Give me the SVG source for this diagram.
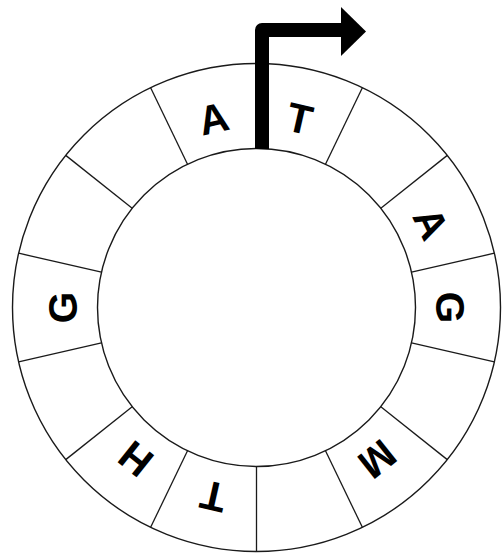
<svg xmlns="http://www.w3.org/2000/svg" width="503" height="553" viewBox="0 0 503 553">
<style>
.ring{fill:none;stroke:#1a1a1a;stroke-width:1.4}
.div{stroke:#1a1a1a;stroke-width:1.3}
.lt{font-family:"Liberation Sans",Arial,sans-serif;font-weight:bold;font-size:41px;fill:#000;text-anchor:middle}
</style>
<rect width="503" height="553" fill="#fff"/>
<g transform="translate(256.5,307.5)">
<g id="ring">
<circle class="ring" r="244"/>
<circle class="ring" r="159"/>
</g>
<g id="dividers">
<line class="div" x1="0" y1="-159" x2="0" y2="-244" transform="rotate(25.714)"/>
<line class="div" x1="0" y1="-159" x2="0" y2="-244" transform="rotate(51.429)"/>
<line class="div" x1="0" y1="-159" x2="0" y2="-244" transform="rotate(77.143)"/>
<line class="div" x1="0" y1="-159" x2="0" y2="-244" transform="rotate(102.857)"/>
<line class="div" x1="0" y1="-159" x2="0" y2="-244" transform="rotate(128.571)"/>
<line class="div" x1="0" y1="-159" x2="0" y2="-244" transform="rotate(154.286)"/>
<line class="div" x1="0" y1="-159" x2="0" y2="-244" transform="rotate(180)"/>
<line class="div" x1="0" y1="-159" x2="0" y2="-244" transform="rotate(205.714)"/>
<line class="div" x1="0" y1="-159" x2="0" y2="-244" transform="rotate(231.429)"/>
<line class="div" x1="0" y1="-159" x2="0" y2="-244" transform="rotate(257.143)"/>
<line class="div" x1="0" y1="-159" x2="0" y2="-244" transform="rotate(282.857)"/>
<line class="div" x1="0" y1="-159" x2="0" y2="-244" transform="rotate(308.571)"/>
<line class="div" x1="0" y1="-159" x2="0" y2="-244" transform="rotate(334.286)"/>
</g>
<g id="seg-A1" transform="rotate(-12.857)"><text class="lt" x="0" y="-179.5">A</text></g>
<g id="seg-T1" transform="rotate(12.857)"><text class="lt" x="0" y="-179.5">T</text></g>
<g id="seg-A2" transform="rotate(64.286)"><text class="lt" x="0" y="-179.5">A</text></g>
<g id="seg-G1" transform="rotate(90)"><text class="lt" x="0" y="-179.5">G</text></g>
<g id="seg-M" transform="rotate(141.429)"><text class="lt" x="0" y="-179.5">M</text></g>
<g id="seg-T2" transform="rotate(192.857)"><text class="lt" x="0" y="-179.5">T</text></g>
<g id="seg-H" transform="rotate(218.571)"><text class="lt" x="0" y="-179.5">H</text></g>
<g id="seg-G2" transform="rotate(270)"><text class="lt" x="0" y="-179.5">G</text></g>
</g>
<g id="connectors">
<path d="M262,149 V30 H344" fill="none" stroke="#000" stroke-width="14" stroke-linejoin="round"/>
<polygon points="341,7 366,31.5 341,56" fill="#000"/>
</g>
</svg>
